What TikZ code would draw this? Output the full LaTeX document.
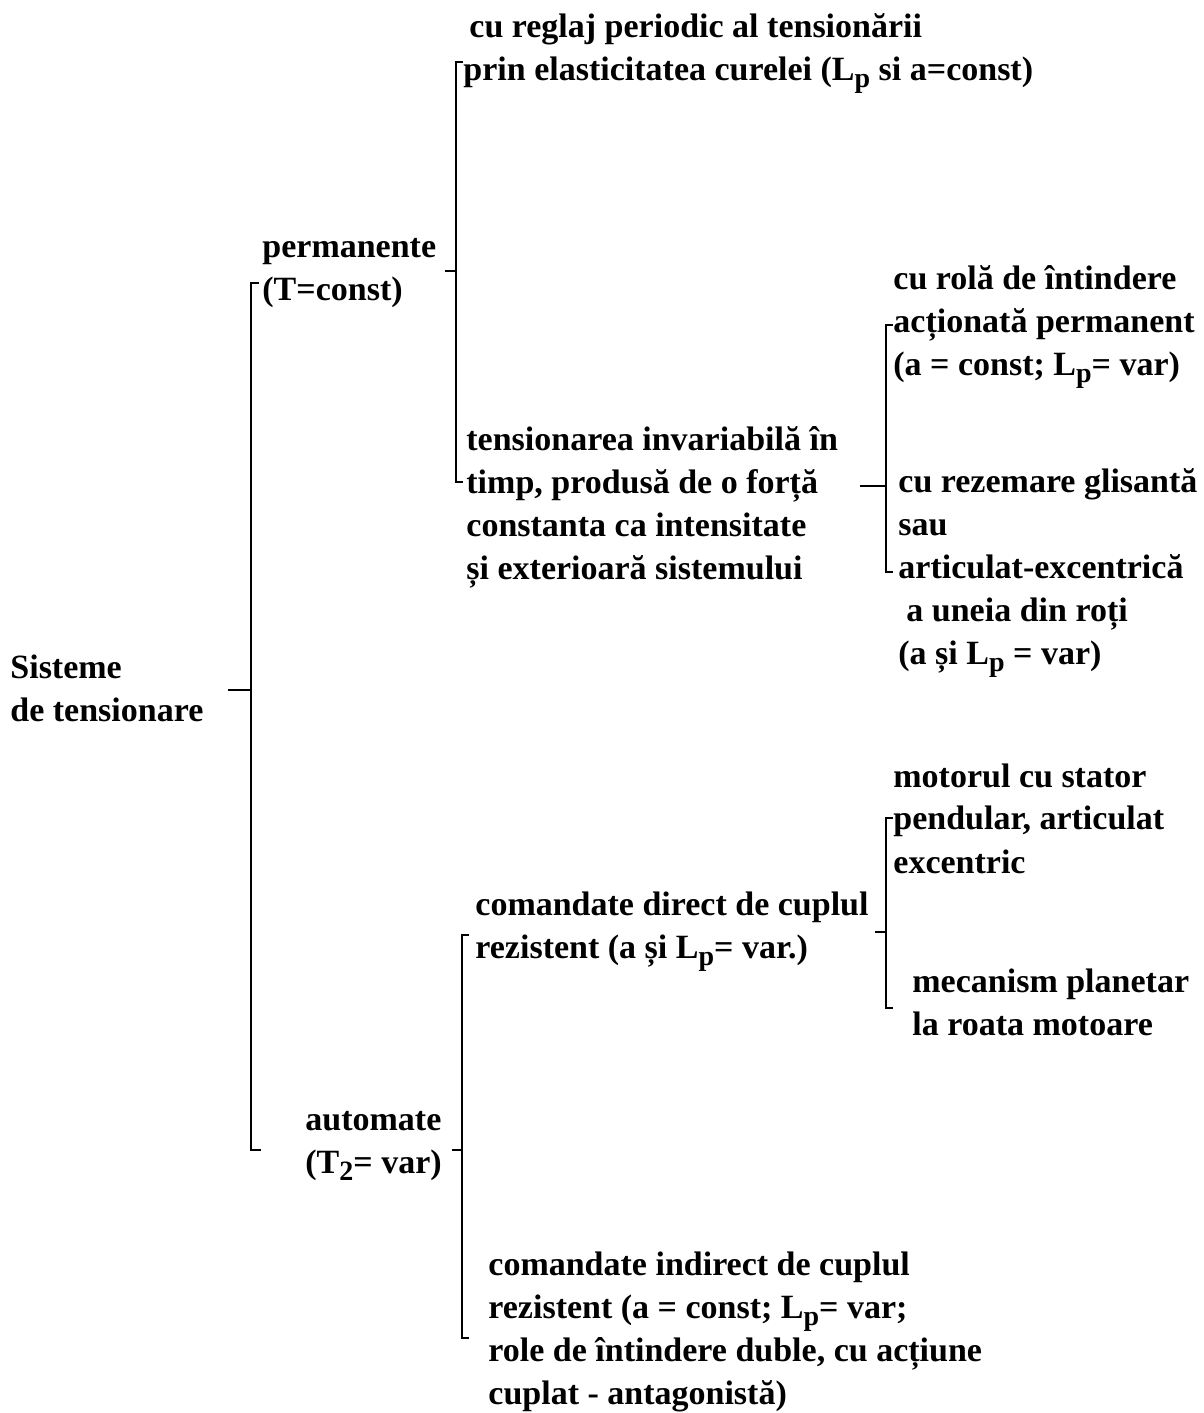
\documentclass[tikz,border=0pt]{standalone}
\usepackage{fontspec}
\setmainfont{Liberation Serif}
\usetikzlibrary{calc}
\newcommand{\lowsub}[1]{\raisebox{-0.45ex}{\fontsize{14}{14}\selectfont #1}}
\begin{document}
\begin{tikzpicture}[x=0.5pt,y=-0.5pt,
  txt/.style={anchor=north west,inner sep=0pt,align=left,font=\fontsize{17}{21.5}\selectfont\bfseries},
  brk/.style={line width=1.2pt}]
  \useasboundingbox (0,0) rectangle (1204,1413);
  % Root
  \node[txt] (sist) at (10,655) {Sisteme\\de tensionare};
  \coordinate (r0) at (251,690);
  \coordinate (rT) at (251,283);
  \coordinate (rB) at (251,1150);
  \draw[brk] ($(sist.east |- r0)+(24,0)$) -- (r0);
  \draw[brk] ([xshift=4pt]rT) -- (rT) -- (rB) -- ([xshift=5pt]rB);
  % Permanente branch
  \node[txt] (perm) at (262,238) {permanente\\(T=const)};
  \node[txt] (regl) at (463,13) {\hspace{3pt}cu reglaj periodic al tensionării\\prin elasticitatea curelei (L\lowsub{p} si a=const)};
  \node[txt] (inv) at (466,426) {tensionarea invariabilă în\\timp, produsă de o forță\\constanta ca intensitate\\și exterioară sistemului};
  \coordinate (p0) at (456,271);
  \coordinate (pT) at (456,62);
  \coordinate (pB) at (456,482);
  \draw[brk] ($(perm.east |- p0)+(8,0)$) -- (p0);
  \draw[brk] ([xshift=3.5pt]pT) -- (pT) -- (pB) -- ([xshift=3.5pt]pB);
  % Tensionare invariabila
  \node[txt] (rola) at (893,265) {cu rolă de întindere\\acționată permanent\\(a = const; L\lowsub{p}= var)};
  \node[txt] (glis) at (898,468) {cu rezemare glisantă\\sau\\articulat-excentrică\\\hspace{4pt}a uneia din roți\\(a și L\lowsub{p} = var)};
  \coordinate (i0) at (886,486);
  \coordinate (iT) at (886,325);
  \coordinate (iB) at (886,572);
  \draw[brk] ($(inv.east |- i0)+(22,0)$) -- (i0);
  \draw[brk] ([xshift=3.5pt]iT) -- (iT) -- (iB) -- ([xshift=3.5pt]iB);
  % Automate branch
  \node[txt] (auto) at (305,1111) {automate\\(T\lowsub{2}= var)};
  \node[txt] (cdir) at (475,891) {comandate direct de cuplul\\rezistent (a și L\lowsub{p}= var.)};
  \node[txt] (cind) at (488,1251) {comandate indirect de cuplul\\rezistent (a = const; L\lowsub{p}= var;\\role de întindere duble, cu acțiune\\cuplat - antagonistă)};
  \coordinate (a0) at (462,1150);
  \coordinate (aT) at (462,935);
  \coordinate (aB) at (462,1338);
  \draw[brk] ($(auto.east |- a0)+(10,0)$) -- (a0);
  \draw[brk] ([xshift=3.5pt]aT) -- (aT) -- (aB) -- ([xshift=3.5pt]aB);
  % Comandate direct
  \node[txt] (motor) at (893,763) {motorul cu stator\\pendular, articulat\\excentric};
  \node[txt] (plan) at (912,968) {mecanism planetar\\la roata motoare};
  \coordinate (d0) at (886,932);
  \coordinate (dT) at (886,818);
  \coordinate (dB) at (886,1008);
  \draw[brk] ($(cdir.east |- d0)+(6,0)$) -- (d0);
  \draw[brk] ([xshift=3.5pt]dT) -- (dT) -- (dB) -- ([xshift=3.5pt]dB);
\end{tikzpicture}
\end{document}
